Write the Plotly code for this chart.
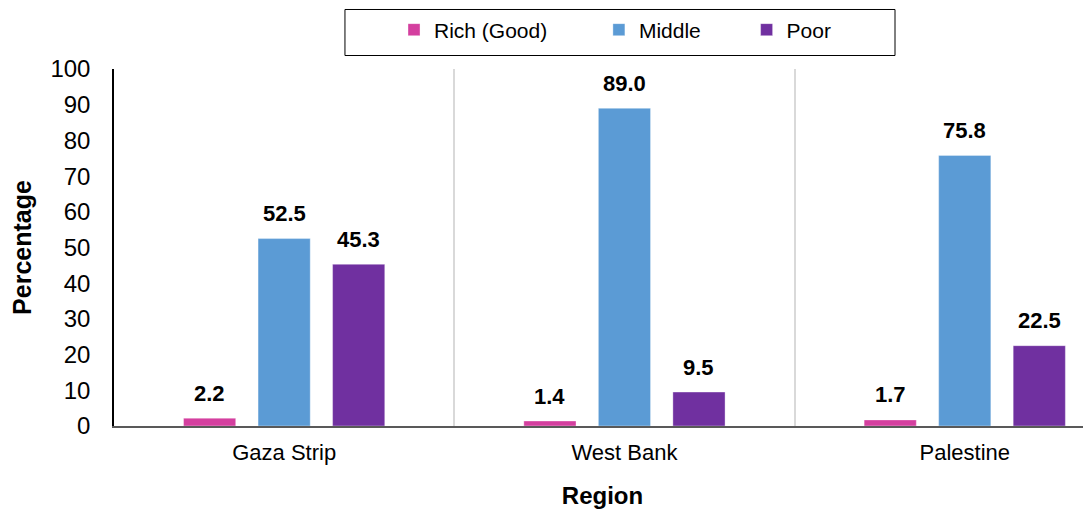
import plotly.graph_objects as go

regions = ["Gaza Strip", "West Bank", "Palestine"]
series_names = ["Rich (Good)", "Middle", "Poor"]
rich = [2.2, 1.4, 1.7]
middle = [52.5, 89.0, 75.8]
poor = [45.3, 9.5, 22.5]
colors = ["#D43F9F", "#5B9BD5", "#7030A0"]
y_ticks = [0, 10, 20, 30, 40, 50, 60, 70, 80, 90, 100]

FONT = "Liberation Sans, Arial, sans-serif"
all_series = [rich, middle, poor]
PADS = ["\u00a0" * 8, "\u00a0" * 7, ""]

fig = go.Figure()
for name, vals, col, pad in zip(series_names, all_series, colors, PADS):
    fig.add_trace(go.Bar(
        x=regions, y=vals, name=name + pad,
        marker=dict(color=col, line=dict(color="rgba(255,255,255,0.35)", width=1)),
    ))

# value labels above bars
slot_px = 74.5
for i, vals in enumerate(all_series):
    for r, v in zip(regions, vals):
        fig.add_annotation(
            x=r, y=v, text=f"<b>{v:.1f}</b>", showarrow=False,
            xshift=(i - 1) * slot_px, yshift=25, yanchor="middle",
            font=dict(family=FONT, size=22, color="#000000"),
        )

# legend frame
fig.add_shape(type="rect", xref="paper", yref="paper",
              x0=0.2364, x1=0.7994, y0=1.0378, y1=1.1667,
              line=dict(color="#000000", width=1), fillcolor="rgba(0,0,0,0)")

fig.update_layout(
    width=1091, height=511,
    margin=dict(l=106, r=8, t=61, b=93, autoexpand=False),
    paper_bgcolor="white", plot_bgcolor="white",
    barmode="group", bargap=0.343, bargroupgap=0.30,
    font=dict(family=FONT, size=21, color="#000000"),
    showlegend=True,
    legend=dict(
        orientation="h", x=0.2866, xanchor="left", y=1.1667, yanchor="top",
        borderwidth=0, bgcolor="rgba(0,0,0,0)",
        font=dict(family=FONT, size=21, color="#000000"),
        traceorder="normal",
    ),
    xaxis=dict(
        range=[-0.5, 2.371], tickson="boundaries",
        showgrid=True, gridcolor="#D9D9D9", gridwidth=1.5,
        showline=True, linecolor="#595959", linewidth=1.5,
        ticks="", ticklabelstandoff=6,
        tickfont=dict(family=FONT, size=22),
        title=dict(text="<b>Region</b>", font=dict(family=FONT, size=24), standoff=23),
        automargin=False,
    ),
    yaxis=dict(
        range=[0, 100], tickvals=y_ticks, showgrid=False, zeroline=False,
        showline=True, linecolor="#000000", linewidth=1.5,
        ticks="", ticklabelstandoff=17,
        tickfont=dict(family=FONT, size=24),
        title=dict(text="<b>Percentage</b>", font=dict(family=FONT, size=25), standoff=12),
        automargin=False,
    ),
)

fig.write_html("out.html")
